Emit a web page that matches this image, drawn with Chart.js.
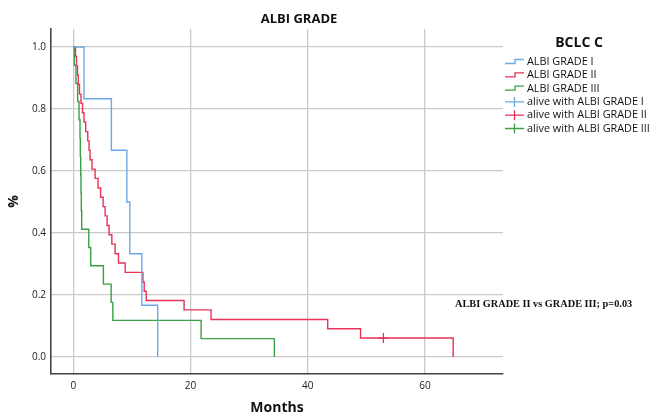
<!DOCTYPE html>
<html>
<head>
<meta charset="utf-8">
<script src="https://cdn.jsdelivr.net/npm/chart.js@4.4.1/dist/chart.umd.min.js"></script>
<style>
body { margin: 0; background: #fff; }
#wrap { width: 653px; height: 416px; }
</style>
</head>
<body>
<div id="wrap"><canvas id="km" width="653" height="416"></canvas></div>
<script>
var BLUE = "rgb(108,168,228)";
var RED = "rgb(232,50,88)";
var GREEN = "rgb(56,160,70)";
var SANS = '"Open Sans", "Noto Sans", sans-serif';

// Kaplan-Meier steps: month of each drop and the survival after it
var grade1Months = [0, 1.83, 6.5, 9.14, 9.65, 11.7, 14.4];
var grade1Surv = [1, 0.833, 0.667, 0.5, 0.333, 0.167, 0];

var grade2Months = [0, 0.38, 0.55, 0.72, 0.86, 1.06, 1.32, 1.58, 1.83, 2.12, 2.47,
    2.69, 2.86, 3.2, 3.72, 4.23, 4.66, 5.09, 5.43, 5.77, 6.11, 6.58, 7.14, 7.71,
    8.85, 11.88, 12.1, 12.45, 18.9, 23.5, 43.4, 49.0, 64.8];
var grade2Surv = [1, 0.970, 0.939, 0.909, 0.879, 0.848, 0.818, 0.788, 0.758, 0.727,
    0.697, 0.667, 0.636, 0.606, 0.576, 0.545, 0.515, 0.485, 0.455, 0.424, 0.394,
    0.364, 0.333, 0.303, 0.273, 0.242, 0.212, 0.182, 0.152, 0.121, 0.091, 0.061, 0];

var grade3Months = [0, 0.17, 0.46, 0.75, 0.98, 1.15, 1.2, 1.27, 1.32, 1.37, 1.44,
    2.64, 2.98, 5.14, 6.46, 6.75, 21.8, 34.3];
var grade3Surv = [1, 0.941, 0.882, 0.824, 0.765, 0.706, 0.647, 0.588, 0.529, 0.471,
    0.412, 0.353, 0.294, 0.235, 0.176, 0.118, 0.059, 0];

// censored (alive) patients
var alive1Months = [], alive1Surv = [];
var alive2Months = [52.9], alive2Surv = [0.061];
var alive3Months = [], alive3Surv = [];

var xTicks = [0, 20, 40, 60];
var yTicks = [0, 0.2, 0.4, 0.6, 0.8, 1.0];

var pts = function(xs, ys){
    var out = [];
    for(var i = 0; i < xs.length; i++){ out.push({x: xs[i], y: ys[i]}); }
    return out;
};

var stepLine = function(label, color, xs, ys){
    return {
        label: label, data: pts(xs, ys), borderColor: color, backgroundColor: color,
        borderWidth: 1.4, stepped: 'before', pointRadius: 0, fill: false, kind: 'line'
    };
};
var censor = function(label, color, xs, ys){
    return {
        label: label, data: pts(xs, ys), borderColor: color, backgroundColor: color,
        showLine: false, pointStyle: 'cross', pointRadius: 5, pointBorderWidth: 1.3,
        kind: 'cross'
    };
};

// title, legend and p-value note
var extras = {
    id: 'extras',
    afterDraw: function(chart){
        var ctx = chart.ctx;
        ctx.save();
        ctx.fillStyle = '#111';
        ctx.textBaseline = 'middle';
        ctx.textAlign = 'center';
        ctx.font = 'bold 13px ' + SANS;
        ctx.fillText('ALBI GRADE', 299, 19);
        ctx.font = 'bold 14px ' + SANS;
        ctx.fillText('BCLC C', 579, 43);

        ctx.textAlign = 'left';
        // size the legend text so the longest label fits the space on the right
        ctx.font = '12px ' + SANS;
        var longest = 0;
        chart.data.datasets.forEach(function(ds){
            longest = Math.max(longest, ctx.measureText(ds.label).width);
        });
        var size = Math.min(12, 12 * 123 / longest);
        ctx.font = size.toFixed(2) + 'px ' + SANS;
        chart.data.datasets.forEach(function(ds, i){
            var y = 62 + i * 13.3;
            ctx.strokeStyle = ds.borderColor;
            ctx.lineWidth = 1.3;
            ctx.beginPath();
            if(ds.kind === 'line'){
                ctx.moveTo(505, y + 1.5);
                ctx.lineTo(515, y + 1.5);
                ctx.lineTo(515, y - 2.5);
                ctx.lineTo(524, y - 2.5);
            } else {
                ctx.moveTo(505, y);
                ctx.lineTo(524, y);
                ctx.moveTo(514.5, y - 5);
                ctx.lineTo(514.5, y + 5);
            }
            ctx.stroke();
            ctx.fillStyle = '#111';
            ctx.fillText(ds.label, 527, y);
        });

        ctx.font = 'bold 10.3px "Liberation Serif", serif';
        ctx.fillText('ALBI GRADE II vs GRADE III; p=0.03', 455, 304);
        ctx.restore();
    }
};

var ctx = document.getElementById('km').getContext('2d');
new Chart(ctx, {
    type: 'line',
    data: {
        datasets: [
            stepLine('ALBI GRADE I', BLUE, grade1Months, grade1Surv),
            stepLine('ALBI GRADE II', RED, grade2Months, grade2Surv),
            stepLine('ALBI GRADE III', GREEN, grade3Months, grade3Surv),
            censor('alive with ALBI GRADE I', BLUE, alive1Months, alive1Surv),
            censor('alive with ALBI GRADE II', RED, alive2Months, alive2Surv),
            censor('alive with ALBI GRADE III', GREEN, alive3Months, alive3Surv)
        ]
    },
    options: {
        responsive: false,
        animation: false,
        layout: { padding: { top: 29, right: 150, left: 0, bottom: 0 } },
        plugins: { legend: { display: false }, tooltip: { enabled: false } },
        scales: {
            x: {
                type: 'linear', min: -3.8, max: 73.3,
                afterBuildTicks: function(s){ s.ticks = xTicks.map(function(v){ return {value: v}; }); },
                afterFit: function(s){ s.height = 42; },
                grid: { color: '#c9c9c9', lineWidth: 1.3, drawTicks: false },
                border: { color: '#444', width: 1.6 },
                ticks: { color: '#222', font: { family: SANS, size: 10 }, padding: 6 },
                title: { display: true, text: 'Months', color: '#111',
                         font: { family: SANS, size: 14, weight: 'bold' }, padding: { top: 4, bottom: 0 } }
            },
            y: {
                type: 'linear', min: -0.055, max: 1.058,
                afterBuildTicks: function(s){ s.ticks = yTicks.map(function(v){ return {value: v}; }); },
                afterFit: function(s){ s.width = 51; },
                grid: { color: '#c9c9c9', lineWidth: 1.3, drawTicks: false },
                border: { color: '#444', width: 1.6 },
                ticks: { color: '#222', font: { family: SANS, size: 10 }, padding: 5,
                         callback: function(v){ return v.toFixed(1); } },
                title: { display: true, text: '%', color: '#111',
                         font: { family: SANS, size: 14, weight: 'bold' }, padding: { top: 6, bottom: 0 } }
            }
        }
    },
    plugins: [extras]
});
</script>
</body>
</html>
